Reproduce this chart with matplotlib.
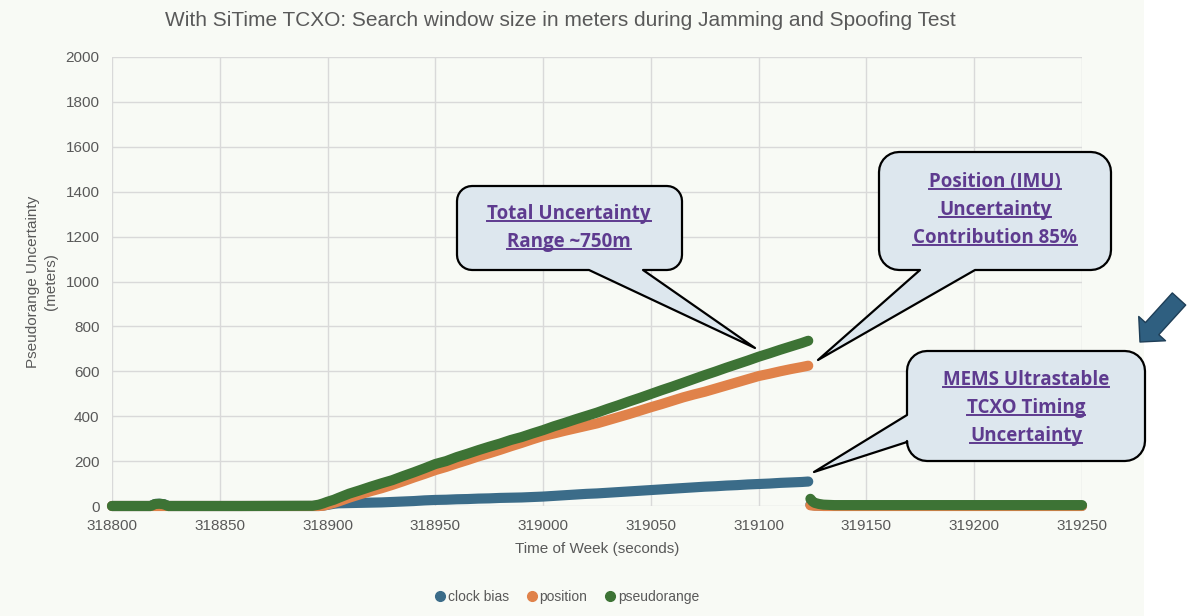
import matplotlib
matplotlib.use('Agg')
import matplotlib.pyplot as plt
from matplotlib.patches import Polygon, Rectangle, FancyArrowPatch
from matplotlib.lines import Line2D
import numpy as np

W, H = 1200, 616

# time of week samples (None = break between jamming run and reset)
times = [318800, 318815, 318818, 318820, 318822, 318824, 318826, 318830,
         318860, 318893, 318896, 318898, 318900, 318903, 318905,
         318910, 318915, 318920, 318925, 318930, 318935, 318940, 318945,
         318950, 318955, 318960, 318965, 318970, 318975, 318980, 318985,
         318990, 318995, 319000, 319005, 319010, 319015, 319020, 319025,
         319030, 319035, 319040, 319045, 319050, 319055, 319060, 319065,
         319070, 319075, 319080, 319085, 319090, 319095, 319100, 319105,
         319110, 319115, 319120, 319123, None,
         319124, 319125, 319126, 319128, 319130, 319135, 319160, 319200,
         319250]

clock_bias = [0, 0, 0, 9, 10, 8, 0, 0,
              0, 0, 0, 2, 5, 10, 12,
              13, 14, 15, 16, 18, 20, 22, 25,
              27, 28, 30, 31, 33, 34, 36, 37,
              38, 40, 42, 45, 48, 51, 54, 56,
              59, 62, 65, 68, 71, 74, 77, 80,
              83, 86, 88, 91, 93, 96, 98, 100,
              103, 105, 107, 109, None,
              6, 4, 3, 2, 1, 1, 1, 1,
              1]

position = [0, 0, 0, 0, 0, 0, 0, 0,
            0, 0, 0, 1, 6, 14, 20,
            37, 52, 66, 79, 94, 110, 127, 143,
            160, 174, 190, 205, 221, 235, 250, 266,
            281, 297, 312, 323, 335, 346, 357, 368,
            382, 396, 410, 425, 440, 454, 469, 484,
            497, 509, 523, 537, 551, 565, 579, 589,
            600, 610, 619, 625, None,
            3, 2, 1, 1, 0, 0, 0, 0,
            0]

pseudorange = [0, 0, 0, 9, 10, 8, 0, 0,
               0, 1, 6, 12, 19, 28, 36,
               55, 70, 86, 101, 115, 133, 150, 168,
               187, 200, 218, 233, 249, 264, 278, 294,
               307, 323, 338, 355, 370, 386, 401, 416,
               433, 449, 466, 482, 499, 516, 532, 549,
               566, 583, 599, 616, 632, 648, 665, 680,
               696, 711, 726, 736, None,
               32, 20, 14, 9, 6, 4, 4, 4,
               4]

series_names = ['clock bias', 'position', 'pseudorange']
series_colors = ['#3B6C89', '#E0824A', '#3D7335']

callouts = [
    ['Total Uncertainty', 'Range ~750m'],
    ['Position (IMU)', 'Uncertainty', 'Contribution 85%'],
    ['MEMS Ultrastable', 'TCXO Timing', 'Uncertainty'],
]

GREY = '#595959'
PURPLE = '#5E3B8F'


def fx(x):
    return x / W


def fy(y):
    return 1 - y / H


def bubble(box, r, side, base, tip):
    '''
        Outline of a rounded box with a pointer, in figure fractions
        box: x0, y0, x1, y1 in image pixels (y down)
    '''
    x0, y0, x1, y1 = box
    pts = []

    def arc(cx, cy, a0, a1):
        for a in np.linspace(np.radians(a0), np.radians(a1), 8):
            pts.append((cx + r * np.cos(a), cy + r * np.sin(a)))

    arc(x1 - r, y0 + r, -90, 0)
    arc(x1 - r, y1 - r, 0, 90)
    if side == 'bottom':
        pts.extend([(base[1], y1), tip, (base[0], y1)])
    arc(x0 + r, y1 - r, 90, 180)
    if side == 'left':
        pts.extend([(x0, base[1]), tip, (x0, base[0])])
    arc(x0 + r, y0 + r, 180, 270)
    return [(fx(x), fy(y)) for x, y in pts]


def main():
    plt.rcParams['font.family'] = ['Liberation Sans', 'DejaVu Sans']
    fig = plt.figure(figsize=(12, 6.16), dpi=100, facecolor='white')
    fig.add_artist(Rectangle((0, 0), 1144 / W, 1, transform=fig.transFigure,
                             fc='#F8FAF5', ec='none', zorder=-10))

    ax = fig.add_axes([fx(112), fy(506), (1082 - 112) / W, (506 - 57) / H])
    ax.set_facecolor('none')

    t = np.array(times, dtype=float)
    for vals, name, col in zip([clock_bias, position, pseudorange],
                               series_names, series_colors):
        ax.plot(t, np.array(vals, dtype=float), color=col, lw=7.3,
                solid_capstyle='round', solid_joinstyle='round',
                clip_on=False, zorder=3, label=name)

    ax.set_xlim(318800, 319250)
    ax.set_ylim(0, 2000)
    ax.set_xticks([318800 + 50 * i for i in range(10)])
    ax.set_yticks([200 * i for i in range(11)])
    ax.grid(True, color='#D9D9D9', lw=1.0, zorder=0)
    ax.set_axisbelow(True)
    for s in ax.spines.values():
        s.set_visible(False)
    ax.tick_params(length=0, labelsize=11, labelcolor=GREY, pad=9)
    ax.set_xlabel('Time of Week (seconds)', fontsize=11, color=GREY,
                  labelpad=7)

    fig.text(fx(42), fy(282), 'Pseudorange Uncertainty\n(meters)',
             rotation=90, ha='center', va='center', fontsize=11,
             color=GREY, linespacing=1.35)
    fig.text(fx(560), fy(21),
             'With SiTime TCXO: Search window size in meters during '
             'Jamming and Spoofing Test',
             ha='center', va='center', fontsize=15, color=GREY)

    handles = [Line2D([], [], ls='', marker='o', ms=7, color=c)
               for c in series_colors]
    fig.legend(handles, series_names, loc='center',
               bbox_to_anchor=(fx(567), fy(597)), ncol=3, frameon=False,
               fontsize=10, labelcolor=GREY, handlelength=0.7,
               handletextpad=0.2, columnspacing=1.3)

    # speech bubbles
    shapes = [
        ((457, 186, 682, 270), 15, 'bottom', (589, 643), (755, 348)),
        ((879, 152, 1111, 270), 20, 'bottom', (920, 975), (818, 360)),
        ((907, 351, 1145, 461), 20, 'left', (415, 442), (814, 472)),
    ]
    text_pos = [
        (569, [214, 242]),
        (995, [182, 210, 238]),
        (1026, [380, 408, 436]),
    ]
    labels = []
    for shp, lines, (cx, ys) in zip(shapes, callouts, text_pos):
        fig.add_artist(Polygon(bubble(*shp), closed=True,
                               transform=fig.transFigure, fc='#DDE7EE',
                               ec='black', lw=1.6, joinstyle='round',
                               zorder=5))
        for line, y in zip(lines, ys):
            labels.append(fig.text(fx(cx), fy(y), line, ha='center',
                                   va='center', fontsize=13.5,
                                   fontweight='bold', color=PURPLE,
                                   family=['Open Sans', 'DejaVu Sans'],
                                   zorder=6))

    fig.add_artist(FancyArrowPatch(
        (fx(1179), fy(299)), (fx(1140), fy(342)),
        transform=fig.transFigure, shrinkA=0, shrinkB=0,
        arrowstyle='simple,head_length=1.3,head_width=2.6,tail_width=1.3',
        mutation_scale=10, fc='#2F5F80', ec='#1E3E57', lw=1, zorder=6))

    # underline the callout text
    fig.canvas.draw()
    rend = fig.canvas.get_renderer()
    for lab in labels:
        bb = lab.get_window_extent(rend)
        yy = (bb.y0 + 3) / fig.bbox.height
        fig.add_artist(Line2D([bb.x0 / fig.bbox.width, bb.x1 / fig.bbox.width],
                              [yy, yy], transform=fig.transFigure,
                              color=PURPLE, lw=1.4, zorder=6))

    fig.savefig('out.png', dpi=100, facecolor='white')


if __name__ == "__main__":
    main()
